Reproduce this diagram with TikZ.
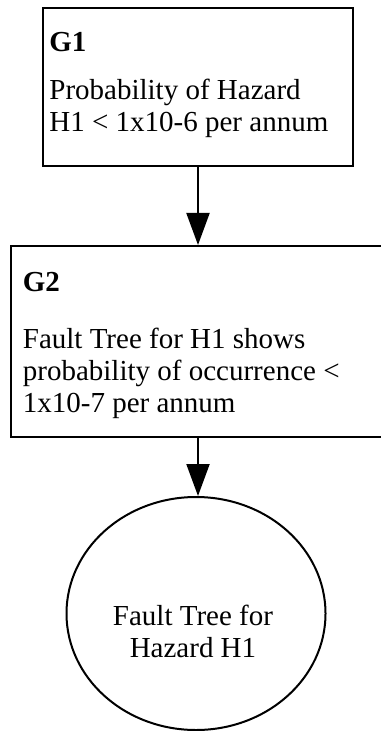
\documentclass[tikz,border=0pt]{standalone}
\usepackage{fontspec}
\setmainfont{Liberation Serif}
\usepackage{tikz}
\usetikzlibrary{arrows.meta,positioning,shapes.geometric}
\tikzset{
  goal/.style={draw=black, line width=1pt, rectangle, inner sep=0pt},
  sol/.style={draw=black, line width=1pt, ellipse, inner sep=0pt},
  txt/.style={inner sep=0pt, font=\fontsize{14.5}{16}\selectfont},
  ar/.style={-{Triangle[length=16pt, width=11.5pt]}, draw=black, line width=1pt},
}

\begin{document}
\begin{tikzpicture}[x=0.5pt, y=-0.5pt]
\useasboundingbox (0,0) rectangle (380,731);
\node[goal, minimum width=155pt, minimum height=79pt,
      label={[txt, align=left, anchor=north west, xshift=3.5pt, yshift=-12.5pt]north west:%
      {\textbf{G1}\\[8pt]Probability of Hazard\\H1 < 1x10-6 per annum}}] (g1) at (198,87) {};
\node[goal, minimum width=187.5pt, minimum height=95.5pt,
      label={[txt, align=left, anchor=north west, xshift=6.5pt, yshift=-13.5pt]north west:%
      {\textbf{G2}\\[12.5pt]Fault Tree for H1 shows\\probability of occurrence <\\1x10-7 per annum}}] (g2) at (198,341.5) {};
\node[sol, minimum width=129.5pt, minimum height=116.5pt,
      label={[txt, align=center, xshift=-1.5pt, yshift=-9pt]center:%
      {Fault Tree for\\Hazard H1}}] (ft) at (196,613.5) {};

\draw[ar] (g1) -- (g2);
\draw[ar] (g2.south) -- (g2.south |- ft.north);
\end{tikzpicture}
\end{document}
